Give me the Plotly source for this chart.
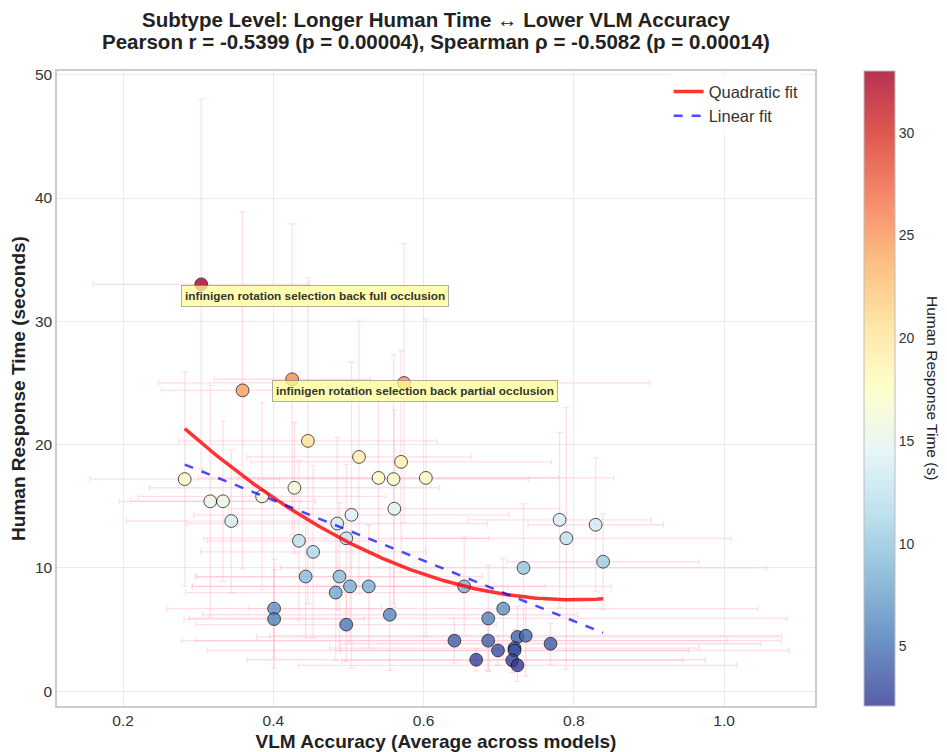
import numpy as np
import plotly.graph_objects as go

# ---- data ----
vlm_acc = [0.304, 0.359, 0.425, 0.574, 0.446, 0.282, 0.514, 0.570, 0.540, 0.560,
           0.603, 0.428, 0.316, 0.333, 0.385, 0.344, 0.485, 0.561, 0.504, 0.497,
           0.434, 0.453, 0.443, 0.488, 0.483, 0.502, 0.527, 0.555, 0.497, 0.401,
           0.401, 0.654, 0.733, 0.706, 0.686, 0.641, 0.686, 0.725, 0.736, 0.769,
           0.699, 0.721, 0.721, 0.670, 0.718, 0.725, 0.781, 0.829, 0.790, 0.839]
human_time = [33.0, 24.4, 25.3, 25.0, 20.3, 17.2, 19.0, 18.6, 17.3, 17.2,
              17.3, 16.5, 15.4, 15.4, 15.8, 13.8, 13.6, 14.8, 14.3, 12.4,
              12.2, 11.3, 9.3, 9.3, 8.0, 8.5, 8.5, 6.2, 5.4, 6.7,
              5.85, 8.5, 10.0, 6.7, 5.9, 4.1, 4.1, 4.4, 4.5, 3.85,
              3.3, 3.5, 3.3, 2.55, 2.5, 2.1, 13.9, 13.5, 12.4, 10.5]
acc_err = [0.144, 0.108, 0.104, 0.327, 0.172, 0.126, 0.150, 0.200, 0.240, 0.180,
           0.250, 0.193, 0.121, 0.123, 0.165, 0.140, 0.200, 0.220, 0.210, 0.190,
           0.122, 0.150, 0.147, 0.190, 0.200, 0.210, 0.235, 0.250, 0.200, 0.143,
           0.120, 0.196, 0.323, 0.339, 0.398, 0.363, 0.390, 0.347, 0.341, 0.280,
           0.387, 0.246, 0.232, 0.305, 0.227, 0.292, 0.122, 0.090, 0.219, 0.128]
time_err = [15.0, 14.5, 12.6, 11.3, 13.2, 8.7, 11.1, 9.0, 6.3, 10.1,
            12.9, 5.3, 9.4, 6.5, 7.6, 5.8, 7.0, 8.0, 12.4, 6.0,
            6.5, 7.0, 5.0, 6.0, 5.5, 4.5, 5.0, 4.5, 3.0, 4.0,
            4.0, 4.0, 5.2, 4.1, 4.3, 1.8, 2.4, 2.5, 3.3, 1.65,
            1.2, 1.5, 1.4, 0.9, 1.0, 1.3, 7.1, 5.4, 10.6, 3.9]
annot_labels = ["infinigen rotation selection back full occlusion",
                "infinigen rotation selection back partial occlusion"]

title_lines = ["Subtype Level: Longer Human Time ↔ Lower VLM Accuracy",
               "Pearson r = -0.5399 (p = 0.00004), Spearman ρ = -0.5082 (p = 0.00014)"]

FONT = "Liberation Sans, Arial, sans-serif"

x = np.array(vlm_acc)
y = np.array(human_time)

base = ['rgb(49,54,149)', 'rgb(69,117,180)', 'rgb(116,173,209)', 'rgb(171,217,233)',
        'rgb(224,243,248)', 'rgb(255,255,191)', 'rgb(254,224,144)', 'rgb(253,174,97)',
        'rgb(244,109,67)', 'rgb(215,48,39)', 'rgb(165,0,38)']
def blend(c, a=0.8):
    r, g, b = [int(v) for v in c[4:-1].split(',')]
    return 'rgb(%d,%d,%d)' % tuple(round(v * a + 255 * (1 - a)) for v in (r, g, b))
cs_plain = [[i / 10, c] for i, c in enumerate(base)]
cs_blend = [[i / 10, blend(c)] for i, c in enumerate(base)]
cmin, cmax = float(y.min()), float(y.max())

# the page body adds an 8px offset; work in page pixels minus that offset
OFF = 8
L, R, T, B = 57 - OFF, 815 - OFF, 71 - OFF, 706 - OFF
W, H = 947 - OFF, 752 - OFF
PW, PH = R - L, B - T

def py(page_y):
    """page pixel y -> paper y"""
    return (B - (page_y - OFF)) / PH

def px(page_x):
    return ((page_x - OFF) - L) / PW

fig = go.Figure()

ERR = "rgba(255,175,195,0.4)"
fig.add_trace(go.Scatter(
    x=x, y=y, mode="markers", showlegend=False,
    error_x=dict(type="data", array=acc_err, color=ERR, thickness=1.3, width=3),
    error_y=dict(type="data", array=time_err, color=ERR, thickness=1.3, width=3),
    marker=dict(size=12.8, color=y, colorscale=cs_plain, cmin=cmin, cmax=cmax, opacity=0.8,
                line=dict(color="rgba(0,0,0,0.85)", width=1), showscale=False),
))

fig.add_trace(go.Scatter(
    x=[None], y=[None], mode="markers", showlegend=False, hoverinfo="skip",
    marker=dict(color=[cmin], colorscale=cs_blend, cmin=cmin, cmax=cmax, showscale=True,
                colorbar=dict(x=px(864), xanchor="left", xpad=0, y=0.5, yanchor="middle", len=1,
                              lenmode="fraction", ypad=0, thickness=31, outlinewidth=1,
                              outlinecolor="#bbbbbb", ticks="", tickvals=[5, 10, 15, 20, 25, 30],
                              tickfont=dict(family=FONT, size=14, color="#333333"))),
))

xs = np.linspace(x.min(), x.max(), 200)
q = np.polyfit(x, y, 2)
l = np.polyfit(x, y, 1)
fig.add_trace(go.Scatter(x=xs, y=np.polyval(q, xs), mode="lines", name="Quadratic fit",
                         line=dict(color="rgba(255,0,0,0.8)", width=3.5)))
fig.add_trace(go.Scatter(x=xs, y=np.polyval(l, xs), mode="lines", name="Linear fit",
                         line=dict(color="rgba(0,0,255,0.7)", width=2.5, dash="dash")))

order = np.argsort(-y)[:2]
for idx, lab in zip(order, annot_labels):
    fig.add_annotation(x=x[idx], y=y[idx], text="<b>%s</b>" % lab, showarrow=False,
                       xanchor="left", yanchor="top", xshift=-20, yshift=-1,
                       font=dict(family=FONT, size=11.8, color="#333333"),
                       bgcolor="rgba(255,255,150,0.75)", bordercolor="rgba(120,120,120,0.6)",
                       borderwidth=1, borderpad=3)

# title: two lines, centred over the plot area
for line, yc in zip(title_lines, [19, 42]):
    fig.add_annotation(xref="paper", yref="paper", x=0.5, y=py(yc), xanchor="center", yanchor="middle",
                       text="<b>%s</b>" % line, showarrow=False,
                       font=dict(family=FONT, size=20.5, color="#222222"))
# colorbar label, reading top to bottom
fig.add_annotation(xref="paper", yref="paper", x=px(933), y=py(388),
                   xanchor="center", yanchor="middle", textangle=90, showarrow=False,
                   text="Human Response Time (s)", font=dict(family=FONT, size=15.5, color="#222222"))

fig.update_layout(
    width=W, height=H,
    margin=dict(l=L, r=W - R, t=T, b=H - B, autoexpand=False),
    paper_bgcolor="white", plot_bgcolor="white",
    legend=dict(x=0.985, y=0.995, xanchor="right", yanchor="top", bgcolor="rgba(255,255,255,0.8)",
                font=dict(family=FONT, size=16.5, color="#333333")),
    xaxis=dict(range=[0.112, 1.121], tickvals=[0.2, 0.4, 0.6, 0.8, 1.0], ticktext=["0.2", "0.4", "0.6", "0.8", "1.0"],
               showgrid=True, gridcolor="#ebebeb", zeroline=False, showline=True, linecolor="#cccccc",
               linewidth=1.5, mirror=True, automargin=False, ticks="", ticklen=0,
               tickfont=dict(family=FONT, size=15.5, color="#333333"),
               title=dict(text="<b>VLM Accuracy (Average across models)</b>", standoff=6,
                          font=dict(family=FONT, size=19, color="#222222"))),
    yaxis=dict(range=[-1.2, 50.3], tickvals=[0, 10, 20, 30, 40, 50], showgrid=True, gridcolor="#ebebeb",
               zeroline=False, showline=True, linecolor="#cccccc", linewidth=1.5, mirror=True,
               automargin=False, ticks="",
               tickfont=dict(family=FONT, size=15.5, color="#333333"),
               title=dict(text="<b>Human Response Time (seconds)</b>", standoff=8,
                          font=dict(family=FONT, size=19, color="#222222"))),
)

fig.write_html("out.html")
